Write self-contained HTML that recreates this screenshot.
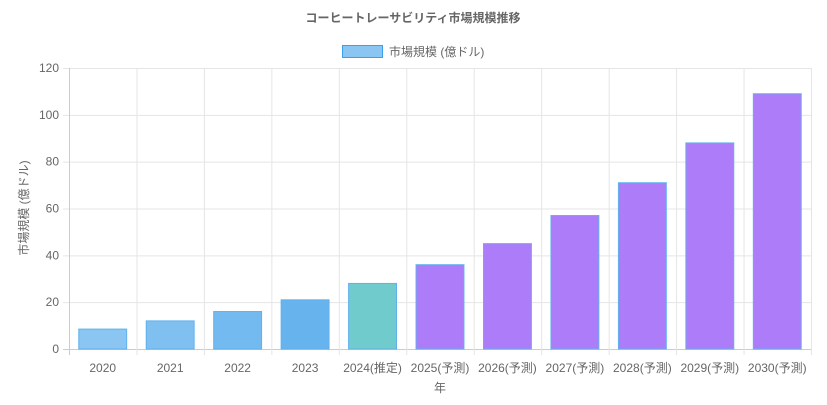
<!DOCTYPE html>
<html><head><meta charset="utf-8"><style>
body{margin:0;background:#fff;width:827px;height:400px;overflow:hidden;font-family:"Liberation Sans","Noto Sans CJK JP",sans-serif}
text{font-family:"Liberation Sans","Noto Sans CJK JP",sans-serif}
</style></head><body>
<svg id="chart" width="827" height="400" viewBox="0 0 827 400">
<text x="413" y="22" text-anchor="middle" font-size="12" font-weight="bold" fill="#666">コーヒートレーサビリティ市場規模推移</text>
<g>
<rect x="342.5" y="45.5" width="40" height="12" fill="#8bc5f2" stroke="#36a2eb"/>
<text x="389" y="56" font-size="12" fill="#666">市場規模 (億ドル)</text>
</g>
<g id="grid"></g><g id="bars"></g><g id="labels"></g>
<text transform="translate(28,208) rotate(-90)" text-anchor="middle" font-size="12" fill="#666">市場規模 (億ドル)</text>
<text x="440" y="392" text-anchor="middle" font-size="12" fill="#666">年</text>
</svg>
<script>
const categories=["2020","2021","2022","2023","2024(推定)","2025(予測)","2026(予測)","2027(予測)","2028(予測)","2029(予測)","2030(予測)"];
const values=[8.5,12,16,21,28,36,45,57,71,88,109];
const yTicks=[0,20,40,60,80,100,120];
const fills=["#8bc5f2","#7fc0f1","#73baf0","#67b3ee","#70cccc","#ad7cf9","#ad7cf9","#ad7cf9","#ad7cf9","#ad7cf9","#ad7cf9"];
const X0=69,X1=811,Y0=349,Y1=68,YMAX=120;
const NS="http://www.w3.org/2000/svg";
const y=v=>Y0-(v/YMAX)*(Y0-Y1);
const bw=(X1-X0)/categories.length;
const x=i=>X0+i*bw;
const grid=document.getElementById('grid'),bars=document.getElementById('bars'),labels=document.getElementById('labels');
function mk(tag,attrs,parent){const e=document.createElementNS(NS,tag);for(const k in attrs)e.setAttribute(k,attrs[k]);parent.appendChild(e);return e;}
yTicks.forEach(t=>{
  const l=mk('line',{x1:X0-6,x2:X1,y1:y(t)+0.5,y2:y(t)+0.5,stroke:t===0?'#ccc':'#e5e5e5'},grid);
  
  
  const tx=mk('text',{x:X0-10,y:y(t)+4,'text-anchor':'end','font-size':12,fill:'#666'},labels);
  
  
  tx.textContent=t;
});
for(let i=0;i<=categories.length;i++){
  const l=mk('line',{x1:x(i)+0.5,x2:x(i)+0.5,y1:Y1,y2:Y0+6,stroke:i===0?'#ccc':'#e5e5e5'},grid);
  
  
}
categories.forEach((c,i)=>{
  const w=bw*0.71,cx=x(i)+bw/2;
  const r=mk('rect',{x:cx-w/2,y:y(values[i]),width:w,height:Y0-y(values[i]),fill:fills[i],stroke:'#5fb0ee','stroke-width':1},bars);
  
  
  const tx=mk('text',{x:cx,y:372,'text-anchor':'middle','font-size':12,fill:'#666'},labels);
  
  
  tx.textContent=c;
});
</script>
</body></html>
